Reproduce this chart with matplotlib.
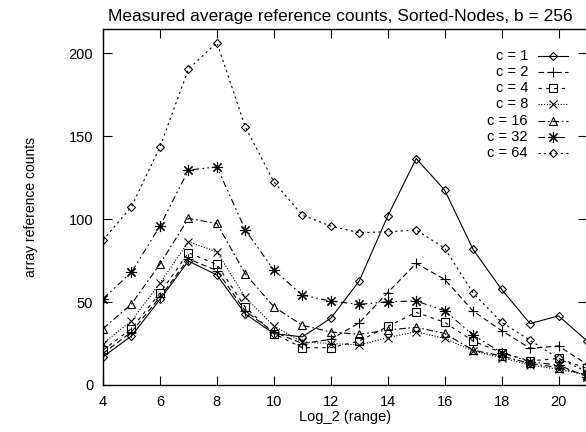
import numpy as np
import matplotlib
matplotlib.use("Agg")
import matplotlib.pyplot as plt

# data
log2_range = list(range(4, 22))
c_labels = ["c = 1", "c = 2", "c = 4", "c = 8", "c = 16", "c = 32", "c = 64"]

c1 = [17, 29.5, 51.6, 74.7, 66.3, 42.8, 31, 29, 40.2, 62.7, 101.8, 136.5, 117.5, 81.7, 57.6, 37, 41.7, 26.6]
c2 = [19, 32, 53, 76, 69, 44.5, 32, 25, 27.5, 37.5, 55.7, 73.3, 63.7, 44.6, 32.8, 22.1, 23.5, 12.5]
c4 = [21, 34, 55.4, 79.7, 72.7, 46.8, 31, 22.5, 22.5, 26.5, 35.3, 43.8, 37.8, 26.5, 19.5, 14.5, 16, 10]
c8 = [25, 38.7, 61.4, 86.3, 80.3, 52.8, 35.5, 26, 25, 24.1, 28.6, 32.1, 28.1, 20.5, 16.5, 12, 9.5, 6]
c16 = [34, 48.8, 72.9, 100.4, 97.4, 66.9, 47.2, 36, 32, 30.5, 33.1, 34.8, 31.1, 21, 17.5, 13, 10.5, 6]
c32 = [52, 68, 95.8, 129.5, 131.5, 93.4, 69.3, 54.2, 50.6, 48.6, 50.2, 50.6, 44.8, 30.1, 19.5, 14, 12, 5]
c64 = [87.3, 107.5, 143.4, 190.4, 206.4, 155.6, 122.5, 102.4, 95.8, 91.8, 92.4, 93.4, 82.5, 55.4, 37.8, 27, 16, 8]

series = [c1, c2, c4, c8, c16, c32, c64]

# gnuplot-ish mono styles
styles = [
    dict(linestyle="-", marker="D", ms=4.5),
    dict(linestyle=(0, (5, 3)), marker="+", ms=7),
    dict(linestyle=(0, (3, 4)), marker="s", ms=6),
    dict(linestyle=(0, (1, 1.5)), marker="x", ms=6),
    dict(linestyle=(0, (6, 2.5, 1.5, 2.5)), marker="^", ms=6),
    dict(linestyle=(0, (6, 3, 1.5, 3, 1.5, 3)), marker=(8, 2, 0), ms=8),
    dict(linestyle=(0, (2, 3)), marker="D", ms=4.5),
]

plt.rcParams["font.family"] = ["Liberation Sans", "DejaVu Sans"]
plt.rcParams["font.size"] = 10

fig = plt.figure(figsize=(5.86, 4.32), dpi=100)
ax = fig.add_axes([103 / 586, 47 / 432, 484 / 586, 356 / 432])

for vals, st in zip(series, styles):
    ax.plot(log2_range, vals, color="black", linewidth=0.8, linestyle=st["linestyle"],
            marker=st["marker"], markersize=st["ms"], markerfacecolor="none",
            markeredgecolor="black", markeredgewidth=0.8)

ax.set_xlim(4, 21)
ax.set_ylim(0, 214.6)
ax.set_xticks(range(4, 22, 2))
ax.set_yticks([0, 50, 100, 150, 200])
ax.tick_params(direction="in", length=6.5, width=0.8, top=True, right=True, pad=7, labelsize=10.5)
for s in ax.spines.values():
    s.set_linewidth(1.0)

ax.set_title("Measured average reference counts, Sorted-Nodes, b = 256", pad=6, x=0.49, fontsize=12.5)
ax.set_xlabel("Log_2 (range)", labelpad=1, fontsize=10.5)
ax.set_ylabel("array reference counts")
ax.yaxis.set_label_coords(-0.134, 0.5)

# key, gnuplot style: right-aligned text, sample on the right
row_y = [0.924, 0.878, 0.833, 0.788, 0.742, 0.697, 0.653]
for lab, st, yy in zip(c_labels, styles, row_y):
    ax.text(0.878, yy, lab, transform=ax.transAxes, ha="right", va="center", fontsize=10.5)
    ax.plot([0.899, 0.961], [yy, yy], transform=ax.transAxes, color="black", linewidth=0.8,
            linestyle=st["linestyle"], clip_on=False)
    ax.plot([0.930], [yy], transform=ax.transAxes, color="black", marker=st["marker"],
            markersize=st["ms"], markerfacecolor="none", markeredgewidth=0.8, clip_on=False)

fig.savefig("out.png", dpi=100)
